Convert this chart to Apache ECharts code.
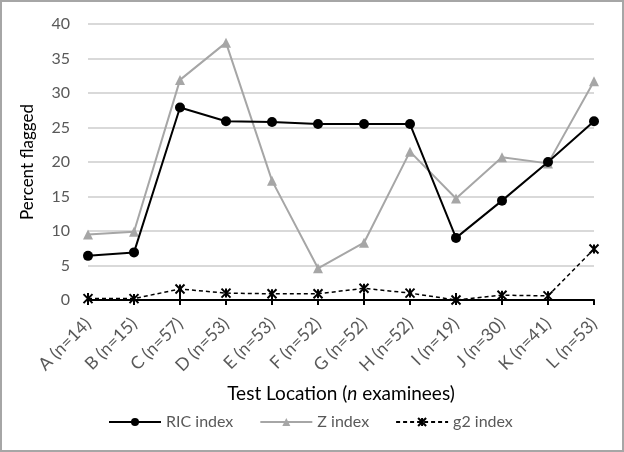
<!DOCTYPE html>
<html><head><meta charset="utf-8">
<script src="https://cdn.jsdelivr.net/npm/echarts@6/dist/echarts.min.js"></script>
<style>
html,body{margin:0;padding:0;background:#fff;}
#frame{position:absolute;left:0;top:0;width:620px;height:448px;border:2px solid #a6a6a6;}
#c{position:absolute;left:0;top:0;width:624px;height:452px;}
</style></head>
<body>
<div id="c"></div>
<div id="frame"></div>
<script>
const categories = ['A (n=14)','B (n=15)','C (n=57)','D (n=53)','E (n=53)','F (n=52)','G (n=52)','H (n=52)','I (n=19)','J (n=30)','K (n=41)','L (n=53)'];
const ricValues = [6.4, 6.9, 27.9, 25.9, 25.8, 25.5, 25.5, 25.5, 9.0, 14.4, 20.0, 25.9];
const zValues = [9.5, 9.9, 31.9, 37.3, 17.3, 4.6, 8.3, 21.5, 14.7, 20.7, 19.8, 31.7];
const g2Values = [0.2, 0.2, 1.6, 1.0, 0.9, 0.9, 1.7, 1.0, 0.0, 0.7, 0.6, 7.4];
const yTicks = {min: 0, max: 40, interval: 5};

const font = 'Lato, "Open Sans", sans-serif';
const grey = '#595959';
const chart = echarts.init(document.getElementById('c'));
const starPath = 'path://M0,0L10,10M10,0L0,10M5,0L5,10';
chart.setOption({
  animation: false,
  grid: {left: 88, right: 30, top: 24, bottom: 152, containLabel: false},
  legend: {
    left: 103, top: 409, itemWidth: 52, itemHeight: 10, itemGap: 26,
    textStyle: {color: grey, fontSize: 16, fontFamily: font},
    data: ['RIC index', 'Z index', 'g2 index']
  },
  xAxis: [{
    type: 'category', data: categories, boundaryGap: false,
    axisLine: {lineStyle: {color: '#000', width: 2}},
    axisTick: {show: true, length: 5, lineStyle: {color: '#000', width: 2}},
    axisLabel: {rotate: 45, color: grey, fontSize: 17.5, fontFamily: font, margin: 21, interval: 0},
    name: '{a|Test Location (}{i|n}{a| examinees)}',
    nameLocation: 'middle', nameGap: 84,
    nameTextStyle: {rich: {
      a: {fontSize: 19, color: '#000', fontFamily: font},
      i: {fontSize: 19, color: '#000', fontFamily: font, fontStyle: 'italic'}
    }},
    z: 10
  }, {
    type: 'category', data: categories, boundaryGap: false, position: 'bottom',
    axisLine: {show: false},
    axisTick: {show: true, inside: true, length: 7, lineStyle: {color: '#000', width: 2}},
    axisLabel: {show: false}
  }],
  yAxis: {
    type: 'value', min: yTicks.min, max: yTicks.max, interval: yTicks.interval,
    axisLine: {show: false}, axisTick: {show: false},
    splitLine: {lineStyle: {color: '#d9d9d9', width: 2}},
    axisLabel: {color: grey, fontSize: 16, fontFamily: font, margin: 18},
    name: 'Percent flagged', nameLocation: 'middle', nameGap: 52,
    nameTextStyle: {fontSize: 17, color: '#000', fontFamily: font}
  },
  series: [
    {name: 'RIC index', type: 'line', data: ricValues, z: 4,
     symbol: 'circle', symbolSize: 10,
     lineStyle: {color: '#000', width: 2}, itemStyle: {color: '#000'}},
    {name: 'Z index', type: 'line', data: zValues, z: 3,
     symbol: 'triangle', symbolSize: 10,
     lineStyle: {color: '#a6a6a6', width: 2}, itemStyle: {color: '#a6a6a6'}},
    {name: 'g2 index', type: 'line', data: g2Values, z: 5,
     symbol: starPath, symbolSize: 9,
     lineStyle: {color: '#000', width: 1.5, type: [4, 3]},
     itemStyle: {color: 'none', borderColor: '#000', borderWidth: 2}}
  ]
});
</script>
</body></html>
